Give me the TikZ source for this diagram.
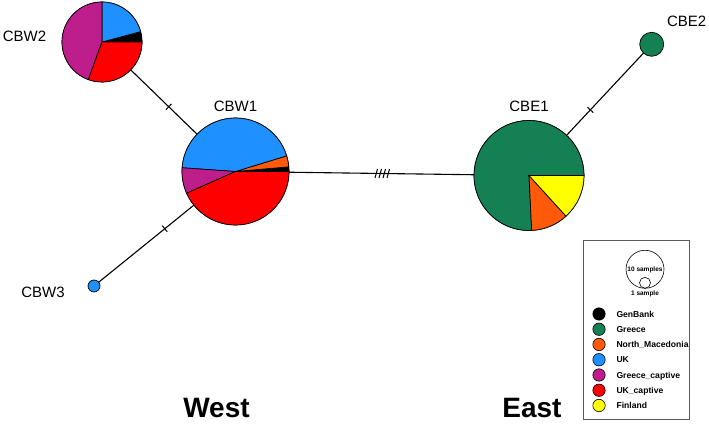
\documentclass[tikz,border=0pt]{standalone}
\usepackage{fontspec}
\setmainfont{Liberation Sans}
\usetikzlibrary{positioning, backgrounds, decorations.markings}
\definecolor{genbank}{RGB}{0,0,0}
\definecolor{greece}{RGB}{20,128,84}
\definecolor{northmac}{RGB}{255,90,10}
\definecolor{uk}{RGB}{30,144,255}
\definecolor{greececapt}{RGB}{190,30,140}
\definecolor{ukcapt}{RGB}{255,0,0}
\definecolor{finland}{RGB}{255,255,0}
\definecolor{boxgray}{RGB}{90,90,90}
\tikzset{
  hap/.style={circle, draw=black, line width=0.7pt, inner sep=0pt, outer sep=0pt},
  lbl/.style={font=\fontsize{15}{17}\selectfont, inner sep=0pt},
  link/.style={line width=1.1pt, color=black},
  onetick/.style={postaction={decorate}, decoration={markings,
      mark=at position 0.5 with {\draw[line width=1pt] (0,-4pt) -- (0,4pt);}}},
  fourtick/.style={postaction={decorate}, decoration={markings,
      mark=at position 0.5 with {\foreach \d in {-6,-2,2,6}
        \draw[line width=1pt] ({(\d-1.2)*1pt},-4.5pt) -- ({(\d+1.2)*1pt},4.5pt);}}},
  region/.style={font=\fontsize{28}{32}\selectfont\bfseries, inner sep=0pt},
  legdot/.style={circle, draw=black, line width=0.6pt, minimum size=12.4pt, inner sep=0pt},
  legtext/.style={font=\fontsize{8.6}{10}\selectfont\bfseries, inner sep=0pt,
                  text height=6.2pt, text depth=0pt},
  sizetext/.style={font=\fontsize{6.5}{7}\selectfont\bfseries, inner sep=0pt,
                   text height=4.7pt, text depth=0pt},
}
% one wedge of a pie: centre, radius, start, end, colour
\newcommand{\pieslice}[5]{%
  \filldraw[fill=#5, draw=black, line width=0.7pt] (#1) -- ++(#3:#2)
    arc[start angle=#3, end angle=#4, radius=#2] -- cycle;}

\begin{document}
\begin{tikzpicture}[x=1pt, y=1pt]
  \useasboundingbox (0,0) rectangle (709,430);

  % Haplotypes
  \node[hap, minimum size=80pt]  (CBW2) at (102,388) {};
  \node[hap, minimum size=107pt] (CBW1) at (235.5,258.5) {};
  \node[hap, minimum size=12pt, fill=uk] (CBW3) at (94,144) {};
  \node[hap, minimum size=110pt] (CBE1) at (529,254.5) {};
  \node[hap, minimum size=24pt, fill=greece] (CBE2) at (651.7,385.7) {};

  % Links (behind the pies)
  \begin{scope}[on background layer]
    \draw[link, onetick]  (CBW2.center) -- (CBW1.center);
    \draw[link, onetick]  (CBW1.center) -- (CBW3.center);
    \draw[link, fourtick] (CBW1.center) -- (CBE1.center);
    \draw[link, onetick]  (CBE1.center) -- (CBE2.center);
  \end{scope}

  % Pie wedges
  \pieslice{CBW2.center}{40}{0}{15}{genbank}
  \pieslice{CBW2.center}{40}{15}{90}{uk}
  \pieslice{CBW2.center}{40}{90}{250}{greececapt}
  \pieslice{CBW2.center}{40}{250}{360}{ukcapt}

  \pieslice{CBW1.center}{53.5}{0}{5}{genbank}
  \pieslice{CBW1.center}{53.5}{5}{17}{northmac}
  \pieslice{CBW1.center}{53.5}{17}{176}{uk}
  \pieslice{CBW1.center}{53.5}{176}{204}{greececapt}
  \pieslice{CBW1.center}{53.5}{204}{360}{ukcapt}

  \pieslice{CBE1.center}{55}{0}{272.8}{greece}
  \pieslice{CBE1.center}{55}{272.8}{312.3}{northmac}
  \pieslice{CBE1.center}{55}{312.3}{360}{finland}

  % Names
  \node[lbl] (lCBW2) at (24.5,393.8) {CBW2};
  \node[lbl, above=6pt of CBW1] (lCBW1) {CBW1};
  \node[lbl] (lCBW3) at (43,137.5) {CBW3};
  \node[lbl, above=9pt of CBE1] (lCBE1) {CBE1};
  \node[lbl] (lCBE2) at (686.7,409) {CBE2};

  \node[region] (west) at (216.5,21.5) {West};
  \node[region] (east) at (532,21.5) {East};

  % Legend
  \draw[boxgray, line width=0.8pt] (583,11) rectangle (689,190);
  \node[circle, draw=black, line width=0.6pt, minimum size=38pt, inner sep=0pt]
    (ten) at (645,160.7) {};
  \node[circle, draw=black, line width=0.6pt, minimum size=11pt, inner sep=0pt]
    (one) at (645,147.2) {};
  \node[sizetext] (tenlbl) at (ten.center) {10 samples};
  \node[sizetext, below=2.5pt of one] (onelbl) {1 sample};

  \foreach \col/\name [count=\i] in {genbank/GenBank, greece/Greece,
      northmac/North\_Macedonia, uk/UK, greececapt/Greece\_captive,
      ukcapt/UK\_captive, finland/Finland} {
    \node[legdot, fill=\col] (dot\i) at (599,{116-15.25*(\i-1)}) {};
    \node[legtext, right=10.8pt of dot\i] (key\i) {\name};
  }
\end{tikzpicture}
\end{document}
